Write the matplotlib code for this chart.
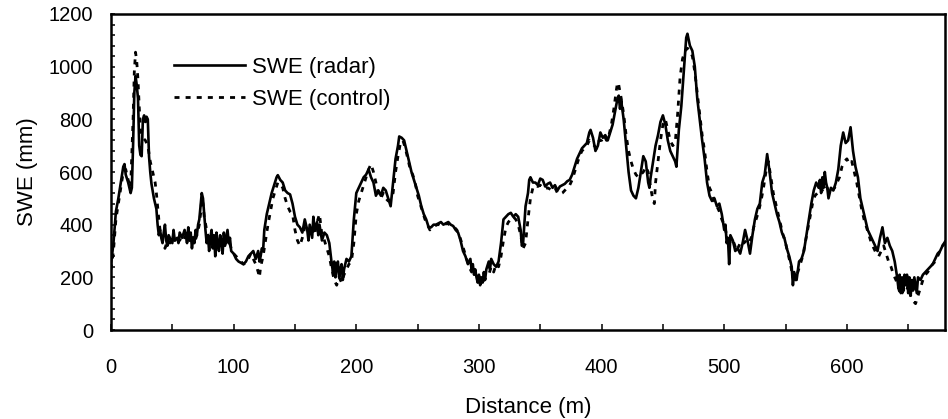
import matplotlib
matplotlib.use("Agg")
import matplotlib.pyplot as plt
from matplotlib.ticker import MultipleLocator

# ---- data ----
radar_dist = [
    0, 2, 4, 6, 8, 10, 11, 12, 14, 16,
    17, 18, 19, 20, 21, 22, 23, 24, 25, 26,
    27, 28, 29, 30, 31, 32, 33, 35, 37, 38,
    39, 40, 41, 42, 43, 44, 45, 46, 47, 48,
    50, 51, 52, 54, 55, 56, 58, 60, 61, 62,
    63, 64, 65, 66, 67, 68, 69, 70, 71, 72,
    73, 74, 75, 76, 77, 78, 79, 80, 81, 82,
    83, 84, 85, 86, 87, 88, 89, 90, 91, 92,
    93, 94, 95, 96, 97, 98, 100, 102, 104, 106,
    108, 110, 112, 114, 116, 118, 120, 121, 122, 123,
    124, 125, 127, 129, 131, 133, 135, 136, 138, 140,
    142, 144, 146, 148, 150, 152, 154, 156, 158, 160,
    161, 162, 164, 165, 166, 168, 169, 170, 172, 174,
    176, 178, 180, 181, 182, 183, 184, 185, 186, 187,
    188, 189, 190, 192, 194, 196, 198, 200, 202, 204,
    206, 208, 210, 212, 214, 216, 218, 220, 222, 224,
    226, 228, 230, 232, 234, 235, 237, 239, 241, 243,
    245, 247, 249, 251, 253, 255, 257, 259, 261, 263,
    265, 267, 269, 271, 273, 275, 277, 279, 281, 283,
    285, 287, 289, 291, 293, 294, 295, 296, 297, 298,
    299, 300, 301, 302, 303, 304, 305, 306, 308, 309,
    310, 312, 314, 316, 318, 320, 322, 324, 326, 328,
    330, 332, 334, 335, 336, 338, 340, 341, 342, 344,
    346, 348, 350, 352, 354, 356, 358, 360, 362, 364,
    366, 368, 370, 372, 374, 376, 378, 380, 382, 384,
    386, 388, 390, 391, 393, 395, 397, 399, 401, 403,
    405, 407, 409, 411, 413, 414, 415, 416, 418, 420,
    422, 424, 426, 428, 430, 432, 434, 436, 438, 439,
    440, 442, 444, 446, 448, 450, 452, 454, 456, 458,
    460, 461, 463, 465, 467, 469, 470, 472, 474, 476,
    478, 480, 482, 484, 486, 488, 490, 492, 494, 496,
    498, 500, 501, 502, 503, 504, 505, 507, 509, 511,
    513, 515, 517, 519, 521, 523, 525, 527, 529, 531,
    533, 535, 537, 539, 541, 543, 545, 547, 549, 551,
    553, 555, 556, 557, 559, 561, 563, 565, 567, 569,
    571, 573, 575, 577, 578, 579, 580, 581, 582, 583,
    584, 585, 587, 589, 591, 593, 595, 597, 599, 601,
    603, 605, 607, 609, 611, 613, 615, 617, 619, 621,
    623, 625, 627, 629, 631, 633, 635, 637, 639, 641,
    642, 643, 644, 645, 646, 647, 648, 649, 650, 651,
    652, 653, 654, 655, 656, 657, 658, 660, 662, 664,
    666, 668, 670, 672, 674, 676, 678, 680,
]
radar_swe = [
    250, 330, 450, 500, 560, 620, 630, 590, 560, 520,
    540, 700, 900, 965, 930, 880, 700, 665, 660, 800,
    815, 790, 810, 800, 660, 600, 555, 500, 460, 400,
    360, 380, 350, 330, 370, 400, 340, 320, 360, 350,
    330, 380, 340, 350, 330, 370, 350, 380, 360, 330,
    390, 340, 370, 310, 350, 330, 380, 360, 400, 420,
    470, 520, 500, 440, 380, 330, 360, 300, 350, 380,
    310, 360, 280, 370, 330, 300, 360, 340, 290, 370,
    320, 350, 380, 330, 350, 300, 290, 270, 260, 255,
    250, 260, 280, 290, 300, 270, 300, 260, 280, 310,
    300, 380, 440, 480, 520, 550, 580, 588, 570, 560,
    530, 520, 515, 480, 430, 400, 390, 370, 420, 380,
    340, 400, 350, 430, 380, 410, 360, 400, 340, 370,
    360, 330, 250, 220, 260, 200, 240, 260, 200, 230,
    250, 190, 230, 270, 260, 280, 420, 520, 540, 560,
    580, 590, 610, 580, 560, 510, 530, 510, 540, 530,
    500, 470, 560, 650, 700, 735, 730, 720, 680, 640,
    600, 570, 540, 510, 470, 440, 420, 390, 390, 400,
    400, 405, 410, 400, 405, 410, 400, 395, 380, 370,
    340, 300, 280, 250, 270, 230, 250, 210, 230, 200,
    180, 210, 170, 200, 180, 220, 190, 230, 260, 230,
    270, 250, 240, 260, 330, 420, 430, 440, 445, 430,
    440, 430, 380, 320, 330, 470, 520, 570, 580, 560,
    560, 550, 575, 570, 545, 555, 560, 540, 550, 530,
    545, 550, 555, 565, 570, 590, 620, 650, 670, 690,
    700, 710, 750, 760, 730, 680, 700, 750, 730, 740,
    720, 750, 780, 830, 880, 890, 840, 870, 800, 700,
    600, 530, 510, 500, 540, 600, 660, 640, 560, 540,
    580, 640, 700, 740, 790, 815, 780, 720, 680, 660,
    640, 620, 760, 850, 980, 1110, 1125, 1080, 1060, 1000,
    880, 800, 720, 650, 560, 510, 490, 500, 470, 480,
    440, 380, 400, 330, 350, 250, 360, 340, 300, 310,
    290, 330, 380, 340, 290, 360, 420, 460, 480, 560,
    590, 668, 600, 520, 480, 440, 410, 370, 350, 310,
    280, 240, 170, 220, 190, 260, 270, 300, 360, 420,
    480, 530, 560, 540, 570, 520, 580, 540, 600, 560,
    540, 500, 540, 530, 560, 610, 700, 750, 710, 720,
    770, 680, 620, 580, 500, 460, 420, 380, 360, 340,
    320, 300, 350, 390, 330, 350, 320, 300, 260, 200,
    160, 210, 140, 200, 150, 210, 170, 210, 140, 200,
    130, 190, 150, 200, 170, 140, 200, 190, 210, 220,
    230, 240, 250, 270, 290, 300, 320, 335,
]

control_dist = [
    0, 2, 4, 6, 8, 10, 12, 14, 16, 18,
    19, 20, 21, 22, 23, 24, 26, 28, 30, 32,
    34, 36, 37, 38, 39, 40, 42, 44, 46, 48,
    50, 52, 54, 56, 58, 60, 62, 64, 66, 68,
    70, 72, 73, 74, 75, 76, 78, 80, 82, 84,
    86, 88, 90, 92, 94, 96, 98, 100, 102, 104,
    106, 108, 110, 112, 114, 116, 118, 120, 121, 122,
    124, 126, 128, 130, 132, 134, 136, 138, 140, 142,
    144, 146, 148, 150, 152, 154, 156, 158, 160, 162,
    164, 166, 168, 170, 171, 172, 174, 176, 178, 180,
    182, 184, 186, 188, 190, 192, 194, 196, 198, 200,
    202, 204, 206, 208, 210, 212, 214, 216, 218, 220,
    222, 224, 226, 228, 230, 232, 234, 236, 238, 240,
    242, 244, 246, 248, 250, 252, 254, 256, 258, 260,
    262, 264, 266, 268, 270, 272, 274, 276, 278, 280,
    282, 284, 286, 288, 290, 292, 294, 296, 298, 300,
    302, 304, 306, 308, 310, 312, 314, 316, 318, 320,
    322, 324, 326, 328, 330, 332, 334, 336, 338, 340,
    342, 344, 346, 348, 350, 352, 354, 356, 358, 360,
    362, 364, 366, 368, 370, 372, 374, 376, 378, 380,
    382, 384, 386, 388, 390, 392, 394, 396, 398, 400,
    402, 404, 406, 408, 410, 412, 413, 414, 416, 418,
    420, 422, 424, 426, 428, 430, 432, 434, 436, 438,
    440, 442, 443, 444, 446, 448, 450, 452, 454, 456,
    458, 460, 462, 464, 466, 468, 470, 472, 474, 476,
    478, 480, 482, 484, 486, 488, 490, 492, 494, 496,
    498, 500, 502, 504, 506, 508, 510, 512, 514, 516,
    518, 520, 522, 524, 526, 528, 530, 532, 534, 536,
    538, 540, 542, 544, 546, 548, 550, 552, 554, 556,
    558, 560, 562, 564, 566, 568, 570, 572, 574, 576,
    578, 580, 582, 584, 586, 588, 590, 592, 594, 596,
    598, 600, 602, 604, 606, 608, 610, 612, 614, 616,
    618, 620, 622, 624, 626, 628, 630, 632, 634, 636,
    638, 640, 642, 644, 646, 648, 650, 652, 654, 656,
    658, 660, 662, 664, 666, 668, 670, 672, 674, 676,
    678, 680,
]
control_swe = [
    230, 300, 420, 480, 540, 600, 610, 570, 540, 800,
    980, 1055, 1020, 950, 850, 760, 730, 720, 700, 640,
    600, 560, 520, 470, 420, 380, 340, 310, 340, 330,
    360, 340, 355, 340, 360, 350, 370, 340, 360, 330,
    360, 400, 440, 500, 480, 430, 380, 340, 360, 320,
    350, 310, 340, 350, 330, 340, 310, 290, 280, 270,
    260, 250, 255, 270, 290, 270, 250, 220, 200, 240,
    280, 340, 400, 450, 500, 530, 560, 555, 540, 500,
    470, 450, 440, 380, 340, 320, 350, 390, 400, 360,
    380, 360, 410, 440, 400, 360, 340, 310, 280, 230,
    190, 170, 200, 180, 210, 230, 250, 260, 330, 440,
    490, 520, 550, 580, 610, 630, 600, 560, 520, 500,
    520, 500, 490, 500, 520, 600, 660, 710, 720, 690,
    650, 610, 590, 560, 510, 480, 450, 420, 400, 380,
    390, 395, 400, 400, 395, 400, 405, 400, 395, 390,
    380, 360, 330, 300, 270, 240, 220, 240, 200, 190,
    170, 190, 200, 210, 240, 220, 250, 240, 280, 340,
    390, 410, 420, 430, 420, 400, 360, 310, 330, 420,
    500, 540, 550, 545, 550, 540, 535, 540, 535, 530,
    540, 520, 515, 520, 530, 540, 550, 570, 600, 630,
    660, 680, 690, 700, 720, 710, 700, 690, 720, 720,
    740, 720, 740, 780, 840, 910, 940, 930, 880, 820,
    740, 680, 640, 610, 590, 580, 590, 600, 620, 600,
    540, 490, 480, 560, 640, 720, 780, 800, 760, 720,
    700, 710, 820, 960, 1030, 1060, 1070, 1060, 1040, 980,
    900, 820, 740, 680, 600, 540, 520, 490, 470, 450,
    420, 400, 360, 340, 320, 330, 300, 320, 340, 330,
    340, 330, 350, 390, 420, 450, 490, 540, 600, 640,
    580, 520, 480, 440, 400, 360, 330, 290, 250, 200,
    190, 220, 250, 280, 330, 380, 430, 480, 510, 520,
    540, 530, 550, 540, 520, 530, 540, 560, 580, 620,
    640, 650, 630, 640, 600, 560, 510, 460, 420, 390,
    360, 330, 310, 290, 280, 300, 320, 290, 260, 240,
    210, 190, 160, 130, 150, 140, 170, 130, 110, 100,
    130, 160, 190, 210, 220, 240, 250, 260, 280, 300,
    320, 330,
]

x_label = "Distance (m)"
y_label = "SWE (mm)"
label_radar = "SWE (radar)"
label_control = "SWE (control)"

# ---- figure ----
plt.rcParams['font.family'] = ['Liberation Sans', 'DejaVu Sans']

fig = plt.figure(figsize=(9.48, 4.19), dpi=100)
ax = fig.add_axes([111/948, 1 - 330/419, (945-111)/948, (330-14)/419])

ax.plot(control_dist, control_swe, color='black', lw=2.0,
        linestyle=(0, (1.8, 2.2)), label=label_control, zorder=2)
ax.plot(radar_dist, radar_swe, color='black', lw=1.9,
        linestyle='-', label=label_radar, zorder=3)

ax.set_xlim(0, 680)
ax.set_ylim(0, 1200)

ax.xaxis.set_major_locator(MultipleLocator(100))
ax.xaxis.set_minor_locator(MultipleLocator(50))
ax.yaxis.set_major_locator(MultipleLocator(200))
ax.yaxis.set_minor_locator(MultipleLocator(40))

ax.tick_params(axis='x', which='both', direction='in', length=4.5, width=1.1,
               labelsize=14.5, pad=20)
ax.tick_params(axis='y', which='both', direction='in', length=3.0, width=1.1,
               labelsize=14.5, pad=13)
ax.tick_params(top=False, right=False)

for sp in ax.spines.values():
    sp.set_linewidth(1.8)

ax.set_xlabel(x_label, fontsize=16, labelpad=14.5)
ax.set_ylabel(y_label, fontsize=16, labelpad=7.5)

handles, labels = ax.get_legend_handles_labels()
order = [1, 0]
ax.legend([handles[i] for i in order], [labels[i] for i in order],
          loc='upper left', bbox_to_anchor=(174/948, 1 - 57/419),
          bbox_transform=fig.transFigure, frameon=False, fontsize=16,
          handlelength=3.2, handletextpad=0.3, labelspacing=0.5,
          borderpad=0, borderaxespad=0)

fig.savefig("out.png", dpi=100)
